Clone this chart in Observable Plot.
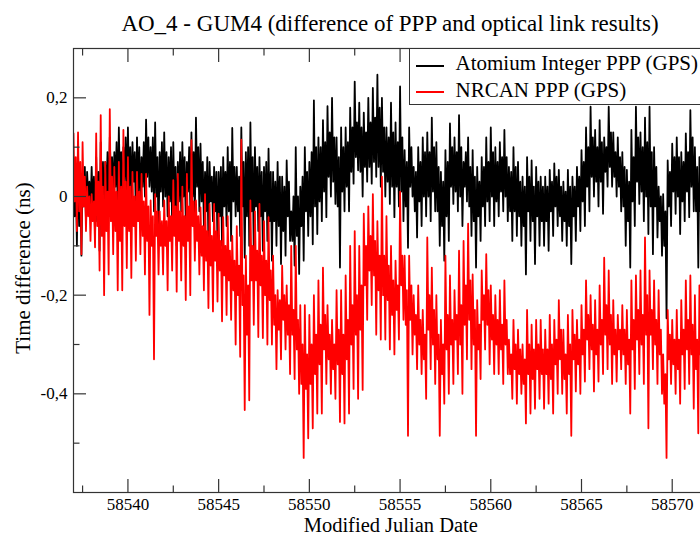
<!DOCTYPE html>
<html>
<head>
<meta charset="utf-8">
<script src="https://cdn.jsdelivr.net/npm/d3@7"></script>
<script src="https://cdn.jsdelivr.net/npm/@observablehq/plot@0.6"></script>
<style>
html,body{margin:0;padding:0;overflow:hidden;background:#fff;}
#wrap{position:relative;width:700px;height:536px;overflow:hidden;font-family:"Liberation Serif","Times New Roman",serif;color:#000;}
#title{position:absolute;left:0;top:12px;width:780px;text-align:center;font-size:23px;line-height:23px;white-space:nowrap;}
#chart{position:absolute;left:0;top:40px;width:715px;}
#xlabel{position:absolute;left:290.8px;width:200px;top:516.6px;text-align:center;font-size:20.5px;line-height:16px;white-space:nowrap;}
#ylabel{position:absolute;left:23px;top:268px;font-size:21px;line-height:21px;white-space:nowrap;transform:translate(-50%,-50%) rotate(-90deg);}
#legend{position:absolute;left:408.5px;top:47.5px;width:320px;height:57.5px;border:1.2px solid #333;background:#fff;box-sizing:border-box;}
.lrow{position:absolute;left:46px;font-size:21px;line-height:21px;white-space:nowrap;}
.lline{position:absolute;left:6px;width:28px;height:1.5px;}
</style>
</head>
<body>
<div id="wrap">
  <div id="title">AO_4 - GUM4 (difference of PPP and optical link results)</div>
  <div id="chart"></div>
  <div id="xlabel">Modified Julian Date</div>
  <div id="ylabel">Time difference (ns)</div>
  <div id="legend"></div>
</div>
<script>
// Time axis: samples every 1/16 day starting at MJD 58537
const startMJD = 58537;
const stepDays = 0.0625;

// Atomium Integer PPP (GPS) - ns, one row per day
const atomium = [
  0.08,-0.04,0.05,-0.10, 0.09,-0.06,0.03,-0.12, 0.04,-0.02,0.06,-0.05, 0.05,0.00,0.03,-0.03,
  0.06,-0.02,0.04,-0.08, 0.08,-0.05,0.05,-0.11, 0.11,-0.01,0.07,-0.05, 0.07,0.00,0.09,-0.03,
  0.12,0.03,0.08,0.00, 0.09,0.02,0.11,-0.02, 0.14,0.01,0.09,-0.04, 0.10,0.03,0.12,0.01,
  0.14,0.02,0.10,-0.01, 0.11,0.03,0.09,-0.04, 0.12,0.01,0.10,-0.02, 0.08,0.02,0.11,0.00,
  0.156,0.04,0.12,0.02, 0.10,0.01,0.12,-0.03, 0.15,0.00,0.08,-0.08, 0.09,0.01,0.11,-0.02,
  0.13,0.00,0.09,-0.04, 0.08,-0.01,0.10,-0.06, 0.11,-0.02,0.06,-0.10, 0.07,-0.01,0.09,-0.03,
  0.11,0.00,0.08,-0.05, 0.07,0.01,0.10,-0.02, 0.13,0.00,0.09,-0.04, 0.16,0.02,0.10,-0.03,
  0.107,-0.01,0.07,-0.06, 0.05,-0.03,0.08,-0.10, 0.07,-0.01,0.04,-0.05, 0.06,-0.03,0.05,-0.10,
  0.05,-0.04,0.06,-0.10, 0.08,-0.02,0.05,-0.06, 0.10,-0.03,0.07,-0.09, 0.139,-0.01,0.06,-0.04,
  0.06,-0.03,0.04,-0.08, 0.14,-0.02,0.07,-0.124, 0.09,-0.04,0.10,-0.10, 0.15,-0.03,0.08,-0.12,
  0.10,-0.02,0.06,-0.07, 0.08,-0.04,0.05,-0.11, 0.06,-0.03,0.07,-0.09, 0.097,-0.05,0.05,-0.13,
  0.05,-0.05,0.03,-0.10, 0.07,-0.06,0.04,-0.137, 0.04,-0.07,0.02,-0.12, 0.073,-0.04,0.03,-0.09,
  -0.03,-0.09,0.00,-0.14, 0.10,-0.08,0.00,-0.157, 0.02,-0.06,0.04,-0.13, 0.10,-0.03,0.05,-0.08,
  0.07,-0.04,0.09,-0.097, 0.195,-0.02,0.10,-0.076, 0.12,-0.01,0.10,-0.05, 0.155,0.01,0.11,-0.042,
  0.183,0.04,0.13,0.00, 0.20,0.03,0.12,-0.015, 0.12,-0.02,0.08,-0.144, 0.14,0.01,0.10,-0.03,
  0.14,0.02,0.11,-0.03, 0.18,0.05,0.14,0.026, 0.233,0.08,0.15,0.053, 0.19,0.05,0.14,0.00,
  0.17,0.06,0.13,0.03, 0.20,0.06,0.15,0.026, 0.22,0.07,0.16,0.04, 0.247,0.06,0.18,0.02,
  0.20,0.05,0.14,0.00, 0.14,0.03,0.12,-0.015, 0.19,0.02,0.13,-0.042, 0.15,0.02,0.11,-0.02,
  0.223,0.01,0.12,-0.05, 0.094,-0.02,0.07,-0.104, 0.14,0.02,0.10,0.00, 0.06,-0.03,0.05,-0.083,
  0.10,-0.01,0.07,-0.06, 0.12,0.00,0.09,-0.04, 0.13,0.00,0.09,-0.05, 0.16,0.01,0.10,-0.03,
  0.11,-0.03,0.06,-0.10, 0.05,-0.06,0.03,-0.13, 0.094,-0.04,0.07,-0.09, 0.148,0.02,0.10,-0.015,
  0.12,0.01,0.09,-0.03, 0.165,0.00,0.10,-0.06, 0.07,0.02,0.09,-0.01, 0.12,-0.02,0.06,-0.08,
  0.094,-0.05,0.04,-0.144, 0.06,-0.04,0.03,-0.09, 0.08,-0.02,0.06,-0.06, 0.12,-0.01,0.07,-0.05,
  0.14,0.00,0.09,-0.06, 0.10,-0.01,0.07,-0.04, 0.11,0.01,0.08,-0.03, 0.135,0.00,0.08,-0.05,
  0.06,-0.03,0.05,-0.09, 0.10,-0.03,0.06,-0.08, 0.07,-0.04,0.03,-0.10, 0.04,-0.06,0.02,-0.158,
  0.08,-0.03,0.04,-0.09, 0.073,-0.05,0.02,-0.137, 0.06,-0.04,0.03,-0.10, 0.04,-0.05,0.02,-0.10,
  0.04,-0.05,0.02,-0.11, 0.054,-0.03,0.03,-0.08, 0.067,-0.02,0.04,-0.06, 0.054,-0.04,0.02,-0.09,
  0.03,-0.05,0.01,-0.10, 0.054,-0.06,0.02,-0.137, 0.04,-0.04,0.02,-0.09, 0.06,-0.02,0.04,-0.07,
  0.094,-0.01,0.07,-0.06, 0.14,0.02,0.10,-0.03, 0.182,0.04,0.12,0.00, 0.135,0.03,0.10,-0.02,
  0.155,0.03,0.11,-0.035, 0.12,0.05,0.10,0.02, 0.182,0.06,0.13,0.02, 0.13,0.04,0.09,0.00,
  0.12,0.02,0.08,-0.03, 0.09,-0.02,0.06,-0.10, 0.054,-0.05,0.03,-0.144, 0.135,-0.01,0.08,-0.06,
  0.182,0.03,0.12,-0.015, 0.13,0.01,0.10,-0.05, 0.16,0.00,0.11,-0.076, 0.182,-0.02,0.09,-0.117,
  0.10,-0.02,0.06,-0.083, 0.02,-0.05,0.00,-0.12, 0.005,-0.10,-0.03,-0.247, 0.073,-0.02,0.05,-0.06,
  0.107,0.01,0.08,-0.035, 0.12,0.00,0.08,-0.076, 0.09,-0.01,0.07,-0.05, 0.128,0.01,0.09,-0.042,
  0.175,0.02,0.12,-0.03, 0.10,-0.03,0.06,-0.144, 0.08,-0.03,0.05,-0.09, 0.10,-0.01,0.06,-0.05,
  0.09
];

// NRCAN PPP (GPS) - ns, one row per day
const nrcan = [
  0.128,-0.01,0.08,-0.07, 0.13,-0.03,0.07,-0.117, 0.11,-0.02,0.04,-0.07, 0.02,-0.04,0.00,-0.09,
  0.005,-0.05,-0.01,-0.103, 0.128,-0.06,0.03,-0.15, 0.165,-0.08,0.02,-0.20, 0.07,-0.07,0.01,-0.158,
  0.177,-0.05,0.04,-0.117, 0.06,-0.07,0.01,-0.19, 0.07,-0.09,0.02,-0.19, 0.135,-0.06,0.03,-0.145,
  0.08,-0.07,0.02,-0.165, 0.05,-0.06,0.00,-0.13, 0.05,-0.05,0.01,-0.117, 0.046,-0.08,-0.01,-0.158,
  0.046,-0.09,-0.02,-0.24, -0.008,-0.10,-0.04,-0.33, 0.005,-0.08,-0.03,-0.158, -0.03,-0.10,-0.05,-0.158,
  -0.008,-0.10,-0.05,-0.19, 0.00,-0.09,-0.04,-0.15, 0.033,-0.08,-0.02,-0.193, 0.046,-0.09,-0.03,-0.17,
  0.02,-0.10,-0.04,-0.21, 0.046,-0.09,-0.02,-0.20, 0.114,-0.06,-0.01,-0.13, -0.008,-0.09,-0.04,-0.158,
  -0.022,-0.12,-0.06,-0.19, 0.005,-0.13,-0.07,-0.226, -0.015,-0.14,-0.08,-0.233, -0.015,-0.13,-0.07,-0.213,
  -0.035,-0.15,-0.09,-0.253, -0.042,-0.16,-0.10,-0.24, -0.04,-0.17,-0.11,-0.25, -0.08,-0.19,-0.13,-0.30,
  -0.06,-0.20,-0.14,-0.325, 0.115,-0.22,-0.16,-0.433, -0.12,-0.28,-0.18,-0.413, -0.008,-0.17,-0.10,-0.26,
  -0.03,-0.17,-0.11,-0.285, -0.015,-0.18,-0.12,-0.287, -0.05,-0.20,-0.13,-0.30, -0.042,-0.21,-0.15,-0.30,
  -0.12,-0.26,-0.20,-0.35, -0.19,-0.27,-0.21,-0.33, -0.14,-0.25,-0.20,-0.31, -0.18,-0.28,-0.22,-0.36,
  -0.10,-0.28,-0.23,-0.37, -0.10,-0.31,-0.25,-0.40, -0.22,-0.38,-0.30,-0.53, -0.22,-0.39,-0.32,-0.49,
  -0.24,-0.38,-0.30,-0.47, -0.20,-0.36,-0.28,-0.44, -0.17,-0.34,-0.26,-0.44, -0.144,-0.31,-0.24,-0.38,
  -0.22,-0.33,-0.28,-0.40, -0.25,-0.35,-0.30,-0.41, -0.19,-0.34,-0.27,-0.457, -0.19,-0.36,-0.28,-0.46,
  -0.16,-0.33,-0.25,-0.44, -0.10,-0.30,-0.22,-0.39, -0.07,-0.28,-0.20,-0.41, -0.10,-0.27,-0.18,-0.392,
  -0.035,-0.18,-0.10,-0.25, -0.02,-0.15,-0.08,-0.22, 0.005,-0.16,-0.09,-0.28, -0.05,-0.19,-0.12,-0.29,
  0.04,-0.20,-0.12,-0.29, -0.04,-0.21,-0.14,-0.31, -0.10,-0.24,-0.17,-0.32, -0.13,-0.23,-0.18,-0.29,
  0.01,-0.18,-0.12,-0.25, -0.12,-0.26,-0.19,-0.485, -0.12,-0.25,-0.18,-0.32, -0.20,-0.28,-0.24,-0.35,
  -0.18,-0.30,-0.25,-0.36, -0.23,-0.33,-0.28,-0.41, -0.083,-0.27,-0.20,-0.35, -0.144,-0.30,-0.23,-0.38,
  -0.20,-0.33,-0.28,-0.485, -0.25,-0.36,-0.30,-0.42, -0.12,-0.31,-0.24,-0.40, -0.16,-0.30,-0.25,-0.38,
  -0.19,-0.29,-0.24,-0.36, -0.11,-0.30,-0.22,-0.40, -0.09,-0.26,-0.18,-0.33, -0.055,-0.25,-0.17,-0.35,
  -0.158,-0.30,-0.23,-0.485, -0.21,-0.31,-0.26,-0.37, -0.15,-0.25,-0.20,-0.31, -0.117,-0.26,-0.19,-0.34,
  -0.18,-0.29,-0.24,-0.36, -0.20,-0.30,-0.25,-0.36, -0.19,-0.31,-0.26,-0.38, -0.17,-0.30,-0.25,-0.36,
  -0.29,-0.36,-0.32,-0.41, -0.25,-0.35,-0.30,-0.42, -0.27,-0.36,-0.31,-0.40, -0.30,-0.38,-0.33,-0.46,
  -0.23,-0.36,-0.30,-0.44, -0.26,-0.37,-0.31,-0.43, -0.25,-0.35,-0.30,-0.41, -0.25,-0.36,-0.31,-0.43,
  -0.27,-0.36,-0.31,-0.42, -0.24,-0.37,-0.30,-0.44, -0.25,-0.34,-0.29,-0.40, -0.21,-0.33,-0.27,-0.40,
  -0.27,-0.37,-0.32,-0.44, -0.24,-0.36,-0.30,-0.485, -0.23,-0.33,-0.28,-0.395, -0.25,-0.34,-0.29,-0.40,
  -0.22,-0.32,-0.27,-0.375, -0.17,-0.29,-0.24,-0.35, -0.20,-0.31,-0.26,-0.395, -0.21,-0.32,-0.27,-0.375,
  -0.18,-0.30,-0.25,-0.36, -0.124,-0.28,-0.22,-0.35, -0.15,-0.30,-0.24,-0.38, -0.21,-0.32,-0.27,-0.375,
  -0.24,-0.31,-0.27,-0.35, -0.22,-0.32,-0.27,-0.38, -0.23,-0.34,-0.29,-0.44, -0.17,-0.31,-0.25,-0.39,
  -0.16,-0.29,-0.23,-0.36, -0.15,-0.30,-0.24,-0.38, -0.083,-0.28,-0.20,-0.47, -0.15,-0.28,-0.23,-0.35,
  -0.17,-0.30,-0.25,-0.38, -0.19,-0.32,-0.27,-0.40, -0.32,-0.42,-0.36,-0.53, -0.23,-0.33,-0.28,-0.38,
  -0.25,-0.34,-0.29,-0.40, -0.23,-0.35,-0.29,-0.42, -0.21,-0.32,-0.27,-0.39, -0.17,-0.31,-0.25,-0.38,
  -0.16,-0.32,-0.26,-0.43, -0.20,-0.35,-0.29,-0.48, -0.18,-0.32,-0.27,-0.40, -0.20,-0.33,-0.28,-0.42,
  -0.19
];

const seriesNames = ["Atomium Integer PPP (GPS)", "NRCAN PPP (GPS)"];
const seriesColors = ["#000000", "#ff0000"];

const xDomain = [58537, 58572];
const yDomain = [-0.6, 0.3];
const xMajor = [58540, 58545, 58550, 58555, 58560, 58565, 58570];
const xMinor = [58537.5, 58542.5, 58547.5, 58552.5, 58557.5, 58562.5, 58567.5];
const yMajor = [-0.4, -0.2, 0, 0.2];
const yMinor = [-0.5, -0.3, -0.1, 0.1];

const toRows = (vals) => vals.map((v, i) => ({t: startMJD + i * stepDays, v}));
const fmtY = d => d === 0 ? "0" : (d < 0 ? "-" : "") + Math.abs(d).toFixed(1).replace(".", ",");
const axisColor = "#333";
const serif = "Liberation Serif";

const tickOpts = {fill: "none", tickFormat: () => "", label: null, stroke: axisColor, strokeWidth: 1.2};

const plot = Plot.plot({
  width: 715,
  height: 496,
  marginLeft: 73,
  marginRight: 7,
  marginTop: 8,
  marginBottom: 44,
  style: {fontFamily: "'Liberation Serif', serif", fontSize: "17px", background: "#fff", maxWidth: "none", color: "#000"},
  x: {domain: xDomain},
  y: {domain: yDomain},
  marks: [
    Plot.lineY(toRows(atomium), {x: "t", y: "v", stroke: seriesColors[0], strokeWidth: 1.8, clip: true}),
    Plot.lineY(toRows(nrcan), {x: "t", y: "v", stroke: seriesColors[1], strokeWidth: 1.8, clip: true}),
    Plot.frame({stroke: axisColor, strokeWidth: 1.2}),
    // inward major/minor ticks
    Plot.axisX(xMajor, {anchor: "bottom", tickSize: 13, dy: -13, ...tickOpts}),
    Plot.axisX(xMinor, {anchor: "bottom", tickSize: 6.5, dy: -6.5, ...tickOpts}),
    Plot.axisX(xMajor, {anchor: "top", tickSize: 13, dy: 13, ...tickOpts}),
    Plot.axisX(xMinor, {anchor: "top", tickSize: 6.5, dy: 6.5, ...tickOpts}),
    Plot.axisY(yMajor, {anchor: "left", tickSize: 13, dx: 13, ...tickOpts}),
    Plot.axisY(yMinor, {anchor: "left", tickSize: 6.5, dx: 6.5, ...tickOpts}),
    // tick labels
    Plot.axisX(xMajor, {anchor: "bottom", tickSize: 0, tickPadding: 5, tickFormat: d => String(d), label: null, fill: "#000", fontSize: 17, fontFamily: serif}),
    Plot.axisY(yMajor, {anchor: "left", tickSize: 0, tickPadding: 6, tickFormat: fmtY, label: null, fill: "#000", fontSize: 17, fontFamily: serif})
  ]
});
plot.style.maxWidth = "none";
document.getElementById("chart").appendChild(plot);

// legend
const legend = document.getElementById("legend");
const lineTops = [16.5, 42.5];
const textTops = [4.6, 31.3];
seriesNames.forEach((name, i) => {
  const ln = document.createElement("div");
  ln.className = "lline";
  ln.style.top = lineTops[i] + "px";
  ln.style.background = seriesColors[i];
  legend.appendChild(ln);
  const tx = document.createElement("div");
  tx.className = "lrow";
  tx.style.top = textTops[i] + "px";
  tx.textContent = name;
  legend.appendChild(tx);
});
</script>
</body>
</html>
